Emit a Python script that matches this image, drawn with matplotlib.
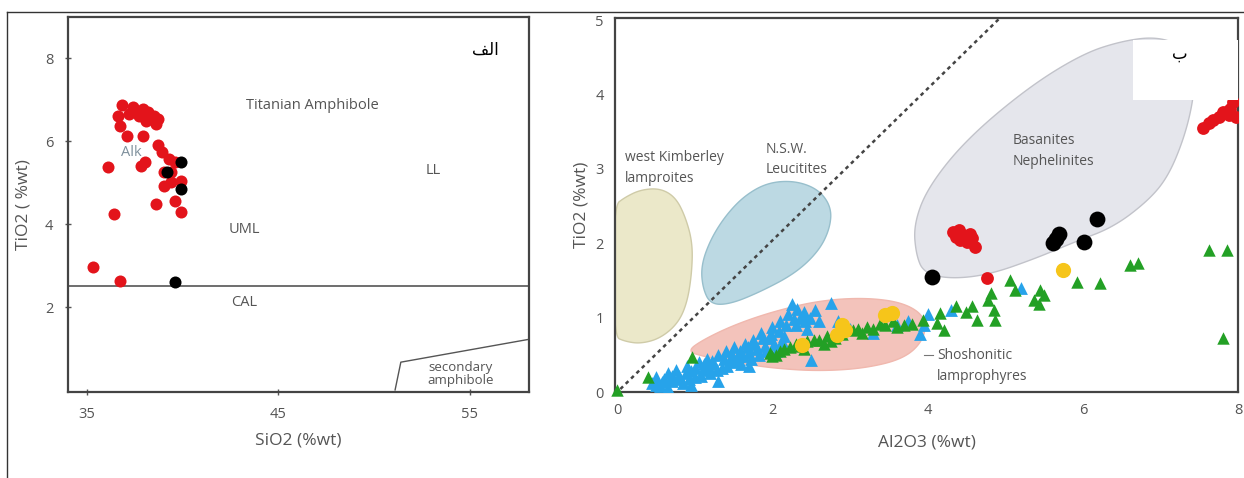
import numpy as np
import matplotlib
matplotlib.use("Agg")
import matplotlib.pyplot as plt
from matplotlib.patches import Polygon, Rectangle
from matplotlib.lines import Line2D

# ---- data: panel A (SiO2 vs TiO2) ----
a_red_sio2 = [36.8, 37.4, 37.9, 38.2, 38.5, 38.7, 36.6, 37.2, 37.7, 38.1, 38.6, 36.7,
              37.1, 37.9, 38.7, 38.9, 39.3, 39.6, 36.1, 37.8, 38.0, 39.0, 39.4, 39.9,
              39.0, 39.4, 38.6, 39.6, 39.9, 36.4, 35.3, 36.7]
a_red_tio2 = [6.87, 6.84, 6.78, 6.70, 6.62, 6.54, 6.62, 6.66, 6.62, 6.50, 6.42, 6.38,
              6.14, 6.14, 5.90, 5.73, 5.57, 5.49, 5.37, 5.41, 5.49, 5.25, 5.25, 5.05,
              4.93, 5.01, 4.49, 4.57, 4.29, 4.25, 2.96, 2.64]
a_blk_sio2 = [39.9, 39.2, 39.9, 39.6]
a_blk_tio2 = [5.49, 5.25, 4.85, 2.60]
cal_boundary = 2.5
sec_amph_x = [51.1, 51.4, 58.2]
sec_amph_y = [0.0, 0.67, 1.23]

# ---- data: panel B (Al2O3 vs TiO2) ----
blue_al = [0.45, 0.5, 0.55, 0.6, 0.65, 0.7, 0.75, 0.8, 0.85, 0.9, 0.95, 1.0, 1.05, 1.1,
           1.15, 1.2, 1.25, 1.3, 1.35, 1.4, 1.45, 1.5, 1.55, 1.6, 1.65, 1.7, 1.75, 1.8,
           1.85, 1.9, 1.95, 2.0, 2.05, 2.1, 2.15, 2.2, 2.25, 2.3, 2.35, 2.4, 2.45, 2.5,
           2.55, 2.6, 2.75, 2.85, 3.0, 3.3, 3.6, 3.75, 3.9, 4.0, 3.95, 4.3, 5.2, 1.3,
           0.95, 1.7, 0.65,
           0.5, 0.58, 0.7, 0.78, 0.88, 0.92, 1.0, 1.08, 1.12, 1.18, 1.22, 1.28, 1.38,
           1.42, 1.48, 1.52, 1.58, 1.62, 1.68, 1.72, 1.78, 1.82, 1.88, 1.92, 1.98, 2.02,
           2.08, 2.12, 2.18, 2.28, 2.32, 2.42, 2.48]
blue_ti = [0.12, 0.2, 0.08, 0.18, 0.25, 0.15, 0.3, 0.22, 0.12, 0.35, 0.28, 0.2, 0.4, 0.3,
           0.45, 0.25, 0.38, 0.5, 0.32, 0.55, 0.42, 0.6, 0.48, 0.38, 0.65, 0.52, 0.7, 0.58,
           0.8, 0.62, 0.72, 0.88, 0.55, 0.95, 0.75, 1.05, 1.18, 0.9, 1.0, 1.08, 0.85, 0.43,
           1.1, 0.95, 1.2, 0.95, 0.85, 0.8, 0.9, 0.95, 0.78, 1.05, 0.9, 1.1, 1.4, 0.15,
           0.1, 0.35, 0.05,
           0.1, 0.14, 0.22, 0.18, 0.25, 0.18, 0.32, 0.22, 0.38, 0.32, 0.42, 0.3, 0.45,
           0.35, 0.5, 0.4, 0.55, 0.48, 0.6, 0.45, 0.65, 0.5, 0.72, 0.55, 0.78, 0.65,
           0.82, 0.68, 0.9, 0.98, 1.12, 0.95, 1.0]
green_al = [0.0, 0.4, 0.96, 1.97, 2.05, 2.15, 2.23, 2.35, 2.45, 2.53, 2.66, 2.8, 2.9,
            3.04, 3.15, 3.22, 3.3, 3.39, 3.55, 3.7, 3.94, 4.12, 4.16, 4.21, 4.36, 4.5,
            4.57, 4.64, 4.78, 4.85, 4.87, 4.81, 5.06, 5.13, 5.37, 5.45, 5.43, 5.5, 5.92,
            6.22, 6.61, 6.71, 7.62, 7.86, 7.81,
            2.1, 2.3, 2.4, 2.6, 2.7, 2.75, 3.1, 3.45, 3.6, 3.8, 2.0]
green_ti = [0.03, 0.2, 0.47, 0.52, 0.5, 0.58, 0.61, 0.62, 0.68, 0.7, 0.65, 0.72, 0.78,
            0.83, 0.8, 0.88, 0.85, 0.92, 0.95, 0.9, 0.97, 0.93, 1.06, 0.83, 1.15, 1.08,
            1.15, 0.97, 1.24, 1.10, 0.97, 1.33, 1.51, 1.37, 1.24, 1.37, 1.19, 1.3, 1.48,
            1.46, 1.71, 1.73, 1.91, 1.91, 0.72,
            0.55, 0.65, 0.58, 0.7, 0.75, 0.68, 0.85, 0.9, 0.88, 0.92, 0.48]
yellow_al = [2.38, 2.83, 2.94, 2.90, 3.45, 3.54, 5.75]
yellow_ti = [0.63, 0.77, 0.83, 0.90, 1.03, 1.06, 1.64]
black_al = [4.06, 5.62, 5.69, 6.01, 6.18, 5.66]
black_ti = [1.55, 2.0, 2.13, 2.02, 2.33, 2.06]
red_al = [4.33, 4.4, 4.46, 4.51, 4.57, 4.61, 4.42, 4.36, 4.55, 4.76,
          7.55, 7.62, 7.68, 7.75, 7.81, 7.9, 7.94, 7.97, 7.88]
red_ti = [2.15, 2.18, 2.11, 2.02, 2.07, 1.95, 2.04, 2.08, 2.12, 1.53,
          3.55, 3.62, 3.66, 3.7, 3.77, 3.8, 3.9, 3.7, 3.72]
divide_slope = 1.02

# field outlines (Al2O3, TiO2)
kimberley_field = [(-0.05, 2.5), (0.1, 2.62), (0.3, 2.72), (0.55, 2.74), (0.75, 2.62),
                   (0.88, 2.35), (0.97, 2.0), (0.96, 1.6), (0.9, 1.2), (0.78, 0.92),
                   (0.55, 0.72), (0.3, 0.65), (0.1, 0.68), (-0.05, 0.75)]
nsw_field = [(1.2, 1.18), (1.1, 1.4), (1.08, 1.7), (1.2, 2.05), (1.4, 2.38), (1.65, 2.65),
             (1.95, 2.82), (2.3, 2.84), (2.6, 2.72), (2.76, 2.48), (2.74, 2.2), (2.6, 1.9),
             (2.3, 1.6), (1.85, 1.35), (1.45, 1.18)]
basanite_field = [(3.95, 1.6), (4.3, 1.52), (4.8, 1.58), (5.4, 1.8), (5.9, 2.02),
                  (6.4, 2.22), (6.85, 2.58), (7.1, 2.9), (7.3, 3.4), (7.42, 3.9),
                  (7.45, 4.35), (7.3, 4.65), (6.95, 4.78), (6.5, 4.72), (6.0, 4.55),
                  (5.3, 4.1), (4.5, 3.4), (4.0, 2.75), (3.82, 2.25), (3.85, 1.85)]
shosh_field = [(0.9, 0.55), (1.1, 0.7), (1.5, 0.9), (2.0, 1.08), (2.6, 1.23), (3.2, 1.27),
               (3.7, 1.2), (3.98, 1.0), (3.95, 0.7), (3.7, 0.45), (3.2, 0.32), (2.6, 0.28),
               (2.0, 0.32), (1.5, 0.4), (1.1, 0.48)]


def smooth(pts, n=4):
    # chaikin corner cutting for a closed outline
    p = np.asarray(pts, float)
    for _ in range(n):
        q = np.roll(p, -1, axis=0)
        out = np.empty((2 * len(p), 2))
        out[0::2] = 0.75 * p + 0.25 * q
        out[1::2] = 0.25 * p + 0.75 * q
        p = out
    return p


plt.rcParams.update({
    "font.family": ["Open Sans", "DejaVu Sans"],
    "font.size": 10,
    "axes.edgecolor": "#444444",
    "axes.linewidth": 1.6,
    "xtick.color": "#555555",
    "ytick.color": "#555555",
    "axes.labelcolor": "#555555",
})

fig = plt.figure(figsize=(12.44, 4.78), dpi=100)
W, H = 1244, 478

# outer frame
fig.add_artist(Line2D([7 / W, 1], [1 - 12 / H, 1 - 12 / H], color="#333333", lw=1))
fig.add_artist(Line2D([7 / W, 7 / W], [0, 1 - 12 / H], color="#333333", lw=1))

# ---------------- panel A ----------------
ax1 = fig.add_axes([68 / W, (478 - 392) / H, (529 - 68) / W, (392 - 17) / H])
ax1.set_xlim(34, 58.1)
ax1.set_ylim(-0.05, 9.0)
ax1.axhline(cal_boundary, color="#555555", lw=1.2)
ax1.plot(sec_amph_x, sec_amph_y, color="#555555", lw=1.0)
ax1.scatter(a_red_sio2, a_red_tio2, s=75, color="#e3141b", zorder=3, linewidths=0)
ax1.scatter(a_blk_sio2, a_blk_tio2, s=75, color="black", zorder=3, linewidths=0)

lab = dict(color="#555555", fontsize=10.5, ha="center", va="center")
ax1.text(46.8, 6.87, "Titanian Amphibole", **lab)
ax1.text(37.3, 5.73, "Alk", color="#7f909c", fontsize=10.5, ha="center", va="center", zorder=2)
ax1.text(53.1, 5.3, "LL", **lab)
ax1.text(43.2, 3.86, "UML", **lab)
ax1.text(43.2, 2.12, "CAL", **lab)
ax1.text(54.5, 0.39, "secondary\namphibole", color="#555555", fontsize=9.5,
         ha="center", va="center", linespacing=1.0)
# Arabic label "الف" pre-shaped (presentation forms, visual order)
ax1.text(0.905, 0.912, "\uFED2\uFEDF\uFE8D", transform=ax1.transAxes, fontsize=12,
         ha="center", va="center", color="black", family="DejaVu Sans")

ax1.set_xticks([35, 45, 55])
ax1.set_yticks([2, 4, 6, 8])
ax1.tick_params(direction="inout", length=5, width=1, labelsize=10.5, pad=8)
ax1.set_xlabel("SiO2 (%wt)", fontsize=12.5, labelpad=8)
ax1.set_ylabel("TiO2 ( %wt)", fontsize=12.5, labelpad=10)

# ---------------- panel B ----------------
ax2 = fig.add_axes([615 / W, (478 - 392) / H, (1238 - 615) / W, (392 - 18) / H])
ax2.set_xlim(-0.03, 8.0)
ax2.set_ylim(0, 5.03)

ax2.add_patch(Polygon(smooth(kimberley_field), closed=True, facecolor="#ebe8c9",
                      edgecolor="#cfcba8", lw=1, zorder=1))
ax2.add_patch(Polygon(smooth(nsw_field), closed=True, facecolor="#bcd9e3",
                      edgecolor="#98bfcc", lw=1, zorder=1))
ax2.add_patch(Polygon(smooth(basanite_field), closed=True, facecolor="#e5e6ec",
                      edgecolor="#c2c3ca", lw=1, zorder=1))
ax2.add_patch(Polygon(smooth(shosh_field), closed=True, facecolor="#f3c3bb",
                      edgecolor="#f0b8ae", lw=1, zorder=1))

xx = np.array(ax2.get_xlim())
ax2.plot(xx, divide_slope * xx, color="#444444", lw=1.8, ls=(0, (1.5, 1.5)), zorder=2)

ax2.scatter(blue_al, blue_ti, marker="^", s=85, color="#27a3ea", linewidths=0, zorder=3)
ax2.scatter(green_al, green_ti, marker="^", s=80, color="#23a025", linewidths=0, zorder=4,
            clip_on=False)
ax2.scatter(yellow_al, yellow_ti, s=120, color="#f6c51a", linewidths=0, zorder=5)
ax2.scatter(black_al, black_ti, s=130, color="black", linewidths=0, zorder=5)
ax2.scatter(red_al, red_ti, s=85, color="#e3141b", linewidths=0, zorder=5)

lab2 = dict(color="#555555", fontsize=10, ha="left", va="center", linespacing=1.5, zorder=6)
ax2.text(0.10, 3.01, "west Kimberley\nlamproites", **lab2)
ax2.text(1.91, 3.13, "N.S.W.\nLeucitites", **lab2)
ax2.text(5.09, 3.24, "Basanites\nNephelinites", **lab2)
ax2.text(4.12, 0.35, "Shoshonitic\nlamprophyres", **lab2)
ax2.plot([3.95, 4.07], [0.5, 0.5], color="#777777", lw=0.8, zorder=6)

# white box with Arabic label "ب"
ax2.add_patch(Rectangle((0.831, 0.781), 0.169, 0.16, transform=ax2.transAxes,
                        facecolor="white", edgecolor="none", zorder=10))
ax2.text(0.907, 0.905, "\u0628", transform=ax2.transAxes, fontsize=12, ha="center",
         va="center", color="black", family="DejaVu Sans", zorder=11)

ax2.set_xticks([0, 2, 4, 6, 8])
ax2.set_yticks([0, 1, 2, 3, 4, 5])
ax2.tick_params(length=0, labelsize=10.5, pad=8)
ax2.set_xlabel("Al2O3 (%wt)", fontsize=12.5, labelpad=12)
ax2.set_ylabel("TiO2 (%wt)", fontsize=12.5, labelpad=4)

fig.savefig("out.png", dpi=100)
